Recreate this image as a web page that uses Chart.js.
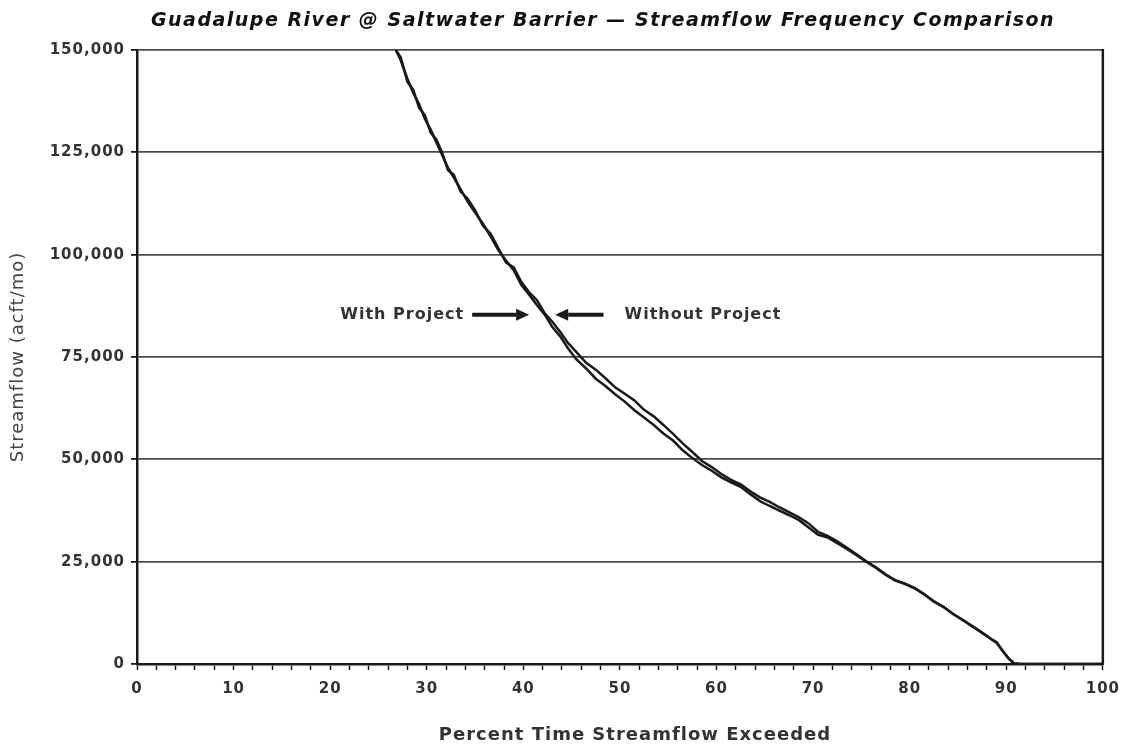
<!DOCTYPE html>
<html>
<head>
<meta charset="utf-8">
<script src="https://cdn.jsdelivr.net/npm/chart.js@4.4.1/dist/chart.umd.min.js"></script>
<style>
  html, body { margin: 0; padding: 0; background: #fff; }
  #wrap { width: 1130px; height: 748px; }
</style>
</head>
<body>
<div id="wrap"><canvas id="chart" width="1130" height="748"></canvas></div>
<script>
// Percent of time the flow is exceeded (x), shared by both series.
const pctExceeded = [
  26.8, 27.3, 28.0, 28.6, 29.2, 29.8, 30.4, 31.0, 31.6, 32.2, 32.8, 33.5, 34.2, 35.0,
  35.8, 36.6, 37.4, 38.2, 39.0, 39.8, 40.6, 41.4, 42.2, 43.0, 43.8, 44.6, 45.5, 46.5,
  47.5, 48.5, 49.5, 50.5, 51.5, 52.5, 53.5, 54.5, 55.5, 56.5, 57.5, 58.5, 59.5, 60.5,
  61.5, 62.5, 63.5, 64.5, 65.5, 66.5, 67.5, 68.5, 69.5, 70.5, 71.5, 72.5, 73.5, 74.5,
  75.5, 76.5, 77.5, 78.5, 79.5, 80.5, 81.5, 82.5, 83.5, 84.5, 85.5, 86.5, 87.5, 88.5,
  89.0, 89.5, 90.2, 90.8, 91.5, 95.0, 100.0
];

// Streamflow (acft/mo)
const withProject = [
  150000, 147500, 143000, 139500, 136800, 133200, 130600, 127400, 124300, 121200, 118800, 116000, 113100, 110300,
  107600, 104500, 101100, 98600, 96200, 92600, 90200, 87700, 85400, 82300, 80100, 77200, 74400, 72200,
  69700, 67900, 65900, 64100, 62000, 60200, 58400, 56300, 54600, 52200, 50300, 48600, 47200, 45600,
  44400, 43300, 41500, 39800, 38600, 37500, 36400, 35200, 33400, 31600, 30900, 29500, 28100, 26600,
  25000, 23500, 21800, 20400, 19600, 18500, 17000, 15300, 13900, 12200, 10700, 9200, 7600, 6000,
  5200, 3600, 1400, 100, 0, 0, 0
];

const withoutProject = [
  150000, 148200, 142200, 140300, 135900, 134100, 129800, 128100, 124900, 120600, 119500, 115400, 113800, 110900,
  107100, 105200, 101600, 98100, 96900, 93300, 90800, 88900, 85700, 83600, 81200, 78500, 76200, 73600,
  71900, 69800, 67600, 66000, 64400, 62100, 60500, 58400, 56200, 53900, 51800, 49600, 48100, 46400,
  45000, 43900, 42200, 40700, 39600, 38300, 37100, 35900, 34400, 32300, 31300, 30000, 28400, 26800,
  25100, 23600, 21900, 20500, 19600, 18600, 17100, 15300, 14000, 12200, 10800, 9200, 7700, 6000,
  5300, 3600, 1500, 200, 0, 0, 0
];

const yTickStep = 25000;
const xTickStep = 2;       // minor tick marks, labelled every 10
const TITLE = "Guadalupe River @ Saltwater Barrier \u2014 Streamflow Frequency Comparison";
const X_TITLE = "Percent Time Streamflow Exceeded";

// Callout positions in data units: y of the labels, arrow tail/tip x values.
const NOTE_Y = 85300;
const withNote = { text: "With Project", tail: 34.7, tip: 40.6 };
const withoutNote = { text: "Without Project", tail: 48.3, tip: 43.3 };

const FONT = "'DejaVu Sans', sans-serif";
const INK = "#1a1a1a";

function drawArrow(ctx, x0, x1, y) {
  const dir = Math.sign(x1 - x0);
  const head = 13;
  ctx.beginPath();
  ctx.moveTo(x0, y);
  ctx.lineTo(x1 - dir * head, y);
  ctx.lineWidth = 4;
  ctx.strokeStyle = INK;
  ctx.stroke();
  ctx.beginPath();
  ctx.moveTo(x1, y);
  ctx.lineTo(x1 - dir * head, y - 6);
  ctx.lineTo(x1 - dir * head, y + 6);
  ctx.closePath();
  ctx.fillStyle = INK;
  ctx.fill();
}

// Wider letter spacing, like the scanned original's text.
const spacing = {
  id: "spacing",
  beforeLayout(chart) { chart.ctx.letterSpacing = "1px"; },
  beforeDraw(chart) { chart.ctx.letterSpacing = "1px"; },
};

const decorations = {
  id: "decorations",
  afterDraw(chart) {
    const { ctx, chartArea, scales } = chart;
    ctx.save();
    // right frame edge
    ctx.beginPath();
    ctx.moveTo(chartArea.right, chartArea.top - 1);
    ctx.lineTo(chartArea.right, chartArea.bottom + 1);
    ctx.lineWidth = 2.5;
    ctx.strokeStyle = INK;
    ctx.stroke();

    // title
    ctx.letterSpacing = "1.5px";
    ctx.font = "italic bold 19px " + FONT;
    ctx.fillStyle = "#111";
    ctx.textAlign = "center";
    ctx.textBaseline = "middle";
    ctx.fillText(TITLE, 603, 21);

    // x axis title
    ctx.letterSpacing = "1px";
    ctx.font = "bold 18px " + FONT;
    ctx.fillStyle = "#333";
    ctx.fillText(X_TITLE, 635, 735);

    // callouts
    const y = scales.y.getPixelForValue(NOTE_Y);
    ctx.font = "bold 16px " + FONT;
    ctx.fillStyle = "#333";
    const wTail = scales.x.getPixelForValue(withNote.tail);
    const woTail = scales.x.getPixelForValue(withoutNote.tail);
    ctx.textAlign = "right";
    ctx.fillText(withNote.text, wTail - 8, y);
    ctx.textAlign = "left";
    ctx.fillText(withoutNote.text, woTail + 21, y);
    drawArrow(ctx, wTail, scales.x.getPixelForValue(withNote.tip), y);
    drawArrow(ctx, woTail, scales.x.getPixelForValue(withoutNote.tip), y);
    ctx.restore();
  },
};

function series(values) {
  return pctExceeded.map((p, i) => ({ x: p, y: values[i] }));
}

new Chart(document.getElementById("chart").getContext("2d"), {
  type: "line",
  data: {
    datasets: [
      { label: "With Project", data: series(withProject), borderColor: INK, borderWidth: 2.5, pointRadius: 0, tension: 0 },
      { label: "Without Project", data: series(withoutProject), borderColor: INK, borderWidth: 2.5, pointRadius: 0, tension: 0 },
    ],
  },
  options: {
    responsive: false,
    animation: false,
    layout: { padding: { top: 50, right: 24, left: 0, bottom: 0 } },
    plugins: { legend: { display: false }, tooltip: { enabled: false } },
    scales: {
      x: {
        type: "linear",
        min: 0,
        max: 100,
        ticks: {
          stepSize: xTickStep,
          autoSkip: false,
          maxRotation: 0,
          padding: 10,
          color: "#333",
          font: { family: FONT, size: 15, weight: "bold" },
          callback: (v) => (v % 10 === 0 ? String(v) : ""),
        },
        grid: { drawOnChartArea: false, tickLength: 6, tickColor: INK, tickWidth: 1.5 },
        border: { color: INK, width: 2.5 },
        afterFit: (scale) => { scale.height = 84; },
      },
      y: {
        min: 0,
        max: 150000,
        ticks: {
          stepSize: yTickStep,
          padding: 6,
          color: "#333",
          font: { family: FONT, size: 15, weight: "bold" },
          callback: (v) => v.toLocaleString("en-US"),
        },
        grid: { color: "#4a4a4a", lineWidth: 1.8, tickLength: 6, tickColor: INK },
        border: { color: INK, width: 2.5 },
        title: {
          display: true,
          text: "Streamflow (acft/mo)",
          color: "#444",
          font: { family: FONT, size: 18 },
          padding: { top: 8, bottom: 0 },
        },
        afterFit: (scale) => { scale.width = 137; },
      },
    },
  },
  plugins: [spacing, decorations],
});
</script>
</body>
</html>
